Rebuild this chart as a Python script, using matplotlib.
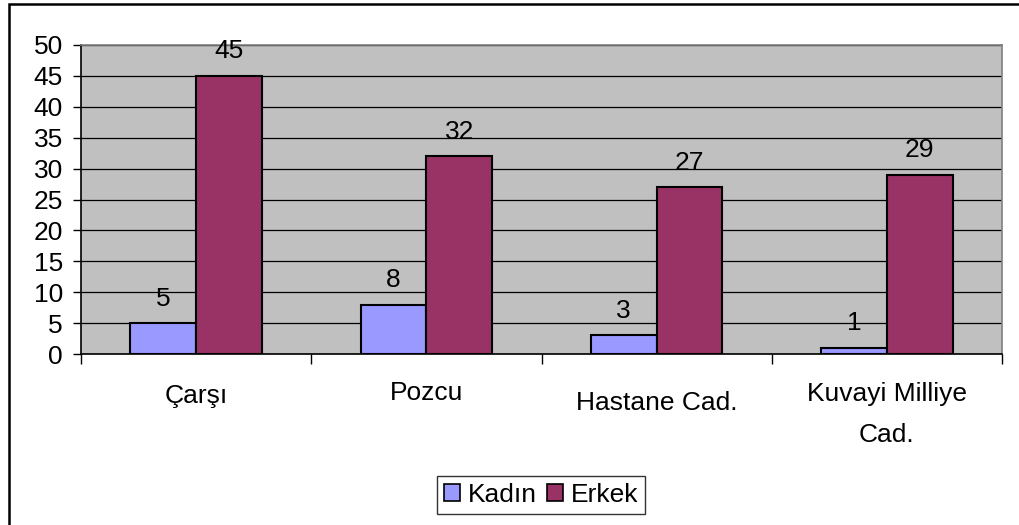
import matplotlib.pyplot as plt
import numpy as np
from matplotlib.patches import Patch, Rectangle

plt.rcParams['font.family'] = ['Liberation Sans', 'DejaVu Sans']

# veriler
categories = ['Çarşı', 'Pozcu', 'Hastane Cad.', 'Kuvayi Milliye\nCad.']
kadin = [5, 8, 3, 1]
erkek = [45, 32, 27, 29]
series_names = ['Kadın', 'Erkek']
yticks = [0, 5, 10, 15, 20, 25, 30, 35, 40, 45, 50]

c_kadin = '#9999FF'
c_erkek = '#993366'
fs = 19
px = 72 / 100  # piksel -> punto

fig = plt.figure(figsize=(10.19, 5.25), dpi=100)
ax = fig.add_axes([81 / 1019, 1 - 354 / 525, (1002 - 81) / 1019, (354 - 45) / 525])
ax.set_facecolor('#C0C0C0')

x = np.arange(len(categories))
w = 1 / 3.5
b1 = ax.bar(x - w / 2, kadin, w, color=c_kadin, edgecolor='black', linewidth=1.5, zorder=3)
b2 = ax.bar(x + w / 2, erkek, w, color=c_erkek, edgecolor='black', linewidth=1.5, zorder=3)

for bars, vals in ((b1, kadin), (b2, erkek)):
    for r, v in zip(bars, vals):
        ax.annotate(str(v), (r.get_x() + r.get_width() / 2, v), xytext=(0, 27 * px),
                    textcoords='offset points', ha='center', va='center_baseline',
                    fontsize=fs, zorder=4)

ax.set_xlim(-0.5, len(categories) - 0.5)
ax.set_ylim(0, 50)
ax.set_yticks(yticks)
ax.tick_params(axis='y', labelsize=fs, length=8 * px, width=1, pad=10 * px, colors='black')
for t in ax.get_yticklabels():
    t.set_verticalalignment('center_baseline')
ax.yaxis.grid(True, color='black', linewidth=0.9, zorder=1)
ax.set_axisbelow(True)

# kategori sınırlarında tikler
ax.set_xticks(np.arange(len(categories) + 1) - 0.5)
ax.set_xticklabels([])
ax.tick_params(axis='x', length=7, width=1)

# kategori etiketleri (satır satır)
label_y = [-39, -37, -47, -37]
for i, (cat, dy) in enumerate(zip(categories, label_y)):
    for j, line in enumerate(cat.split('\n')):
        ax.annotate(line, (i, 0), xytext=(0, (dy - 42 * j) * px), textcoords='offset points',
                    ha='center', va='center_baseline', fontsize=fs, annotation_clip=False)

for s in ('left', 'bottom'):
    ax.spines[s].set_color('black')
    ax.spines[s].set_linewidth(1.2)
for s in ('top', 'right'):
    ax.spines[s].set_color('#808080')
    ax.spines[s].set_linewidth(1.2)

handles = [Patch(facecolor=c_kadin, edgecolor='black', linewidth=1.2),
           Patch(facecolor=c_erkek, edgecolor='black', linewidth=1.2)]
leg = fig.legend(handles, series_names, loc='center', bbox_to_anchor=(541 / 1019, 1 - 495 / 525),
                 ncol=2, fontsize=fs, frameon=True, fancybox=False, edgecolor='black',
                 handlelength=0.6, handleheight=0.6, handletextpad=0.3, columnspacing=0.4,
                 borderpad=0.25, borderaxespad=0)
leg.get_frame().set_linewidth(1.0)

# dış çerçeve
fig.patches.append(Rectangle((9 / 1019, -0.05), 1.1, 1 - 4 / 525 + 0.05, transform=fig.transFigure,
                             fill=False, edgecolor='black', linewidth=1.8))

fig.savefig('out.png', dpi=100)
